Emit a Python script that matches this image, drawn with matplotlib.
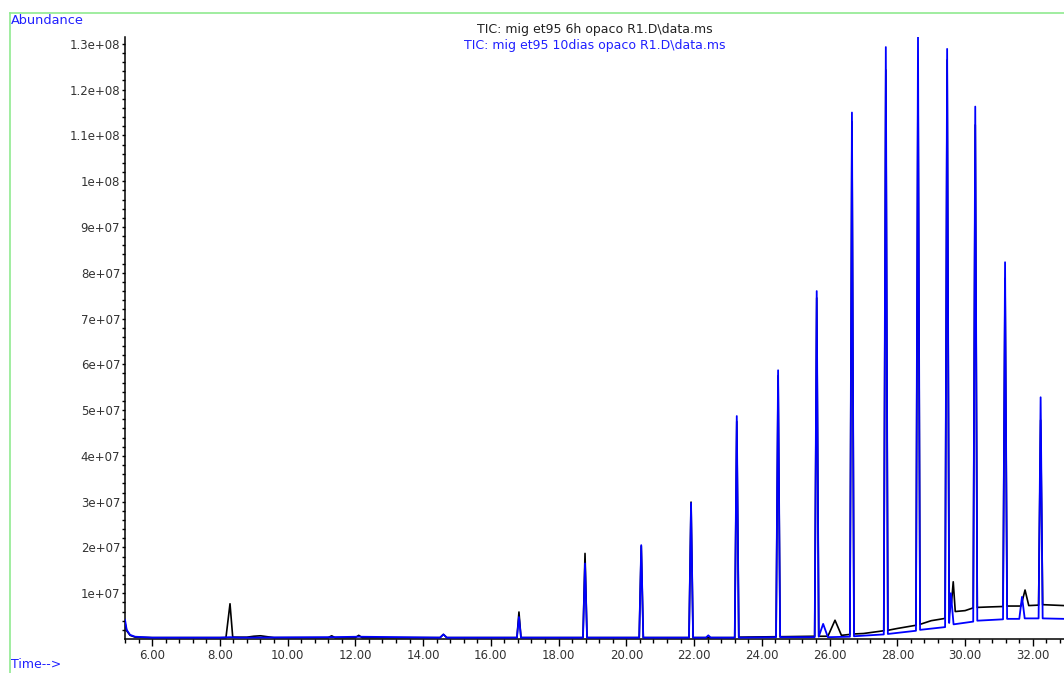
import numpy as np
import matplotlib
matplotlib.use("Agg")
import matplotlib.pyplot as plt
from matplotlib.lines import Line2D

# ---------------- data (abundance in units of 1e6) ----------------
title_6h = "TIC: mig et95 6h opaco R1.D\\data.ms"
title_10d = "TIC: mig et95 10dias opaco R1.D\\data.ms"

time_6h = [5.20, 5.25, 5.35, 5.50, 6.00, 7.50, 8.18, 8.24, 8.30, 8.38, 8.80, 9.00, 9.20, 9.40, 9.60,
           11.20, 11.30, 11.40, 12.00, 12.10, 12.20, 14.50, 14.60, 14.70,
           16.77, 16.83, 16.89, 18.72, 18.78, 18.84, 20.38, 20.44, 20.50,
           21.85, 21.91, 21.97, 23.20, 23.26, 23.32, 24.42, 24.48, 24.54,
           25.56, 25.62, 25.68, 25.95, 26.16, 26.35, 26.60, 26.66, 26.72,
           27.00, 27.60, 27.66, 27.72, 28.00, 28.55, 28.61, 28.67, 29.00,
           29.41, 29.47, 29.53, 29.60, 29.65, 29.71, 30.00, 30.24, 30.30, 30.36,
           30.70, 31.12, 31.18, 31.24, 31.65, 31.77, 31.88, 32.17, 32.23, 32.29, 32.92]
abund_6h = [3.5, 1.8, 0.8, 0.4, 0.3, 0.3, 0.3, 4.0, 7.7, 0.4, 0.4, 0.6, 0.7, 0.5, 0.3,
            0.3, 0.7, 0.3, 0.3, 0.8, 0.3, 0.3, 1.0, 0.3,
            0.3, 5.9, 0.3, 0.3, 18.7, 0.3, 0.3, 20.3, 0.3,
            0.3, 29.9, 0.3, 0.3, 47.5, 0.4, 0.5, 57.5, 0.5,
            0.6, 74.5, 0.6, 0.6, 4.1, 0.8, 1.0, 113.0, 1.1,
            1.2, 1.8, 124.3, 1.9, 2.3, 3.0, 124.3, 3.2, 4.0,
            4.5, 126.5, 5.5, 8.0, 12.5, 6.0, 6.2, 6.8, 112.3, 6.9,
            7.0, 7.1, 78.8, 7.2, 7.2, 10.7, 7.3, 7.4, 47.8, 7.5, 7.3]

time_10d = [5.20, 5.25, 5.35, 5.50, 6.00, 8.00, 8.30, 8.60, 11.30, 12.10, 14.50, 14.60, 14.70,
            16.77, 16.83, 16.89, 18.72, 18.78, 18.84, 20.38, 20.44, 20.50,
            21.85, 21.91, 21.97, 22.35, 22.42, 22.49, 23.20, 23.26, 23.32,
            24.42, 24.48, 24.54, 25.56, 25.62, 25.68, 25.81, 25.95, 26.60, 26.66, 26.72,
            27.60, 27.66, 27.72, 28.55, 28.61, 28.67, 29.41, 29.47, 29.53, 29.58, 29.66,
            30.24, 30.30, 30.36, 31.12, 31.18, 31.24, 31.60, 31.68, 31.76,
            32.17, 32.23, 32.29, 32.92]
abund_10d = [4.2, 2.0, 0.9, 0.5, 0.3, 0.3, 0.4, 0.3, 0.4, 0.5, 0.3, 1.0, 0.3,
             0.3, 4.8, 0.3, 0.3, 16.5, 0.3, 0.3, 20.5, 0.3,
             0.3, 29.7, 0.3, 0.3, 0.8, 0.3, 0.3, 48.7, 0.3,
             0.4, 58.7, 0.4, 0.4, 76.0, 0.5, 3.3, 0.4, 0.5, 115.0, 0.6,
             1.0, 129.3, 1.1, 1.8, 131.6, 2.0, 2.6, 128.9, 3.5, 10.0, 3.2,
             3.8, 116.3, 4.0, 4.3, 82.3, 4.4, 4.4, 9.2, 4.5,
             4.5, 52.8, 4.5, 4.4]

x_ticks = [6, 8, 10, 12, 14, 16, 18, 20, 22, 24, 26, 28, 30, 32]
y_ticks = [1e7, 2e7, 3e7, 4e7, 5e7, 6e7, 7e7, 8e7, 9e7, 1e8, 1.1e8, 1.2e8, 1.3e8]
y_tick_labels = ["1e+07", "2e+07", "3e+07", "4e+07", "5e+07", "6e+07", "7e+07",
                 "8e+07", "9e+07", "1e+08", "1.1e+08", "1.2e+08", "1.3e+08"]

# ---------------- figure ----------------
W, H = 1064, 673
fig = plt.figure(figsize=(W / 100, H / 100), dpi=100)
fig.patch.set_facecolor("white")

def fx(px):
    return px / W

def fy(py):
    return 1 - py / H

ax_left, ax_right, ax_top, ax_bottom = 125, 1064, 37, 639
ax = fig.add_axes([fx(ax_left), fy(ax_bottom), fx(ax_right - ax_left), (ax_bottom - ax_top) / H])

ax.plot(time_6h, np.array(abund_6h) * 1e6, color="#000000", lw=1.2, zorder=2)
ax.plot(time_10d, np.array(abund_10d) * 1e6, color="#0000ff", lw=1.3, zorder=3)

ax.set_xlim(5.20, 32.92)
ax.set_ylim(0, 1.315e8)

for s in ("top", "right"):
    ax.spines[s].set_visible(False)
for s in ("left", "bottom"):
    ax.spines[s].set_linewidth(1.1)
    ax.spines[s].set_color("black")

ax.set_xticks(x_ticks)
ax.set_xticklabels([f"{v:.2f}" for v in x_ticks])
ax.set_xticks(np.arange(5.2, 33.0, 0.4), minor=True)
ax.set_yticks(y_ticks)
ax.set_yticklabels(y_tick_labels)
ax.set_yticks(np.arange(2e6, 1.32e8, 2e6), minor=True)

ax.tick_params(axis="x", which="major", direction="out", length=5, width=1.0, pad=2.5,
               labelsize=8.5, labelcolor="#333333")
ax.tick_params(axis="x", which="minor", direction="out", length=3.2, width=1.0)
ax.tick_params(axis="y", which="major", direction="out", length=2.5, width=1.0, pad=1,
               labelsize=8.5, labelcolor="#333333")
ax.tick_params(axis="y", which="minor", direction="out", length=2.0, width=1.0)

# green frame
green = "#90ea90"
fig.add_artist(Line2D([fx(10), fx(10)], [fy(13), 0], transform=fig.transFigure, color=green, lw=1.2))
fig.add_artist(Line2D([fx(10), 1], [fy(13), fy(13)], transform=fig.transFigure, color=green, lw=1.2))

# texts
fig.text(fx(11), fy(21), "Abundance", color="#2020ff", fontsize=9.3, ha="left", va="center")
fig.text(fx(11), fy(671), "Time-->", color="#2020ff", fontsize=9, ha="left", va="bottom")
fig.text(fx(595), fy(30), title_6h, color="#222222", fontsize=9, ha="center", va="center")
fig.text(fx(595), fy(45), title_10d, color="#2020ff", fontsize=9, ha="center", va="center")

fig.savefig("out.png", dpi=100)
